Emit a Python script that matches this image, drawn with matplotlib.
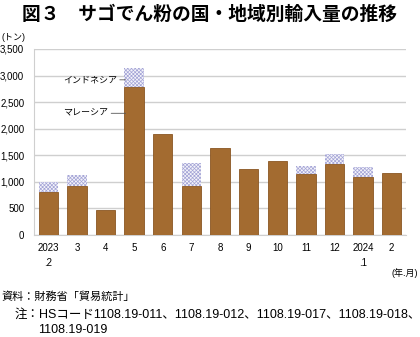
import numpy as np
import matplotlib
import matplotlib.pyplot as plt

matplotlib.use("Agg")
plt.rcParams['font.family'] = ['Liberation Sans', 'Noto Sans CJK JP', 'DejaVu Sans']
plt.rcParams['hatch.linewidth'] = 0.5

months = ['2023\n.2', '3', '4', '5', '6', '7', '8', '9', '10', '11', '12', '2024\n.1', '2']
malaysia = [815, 925, 470, 2780, 1900, 930, 1640, 1240, 1385, 1150, 1335, 1095, 1160]
indonesia = [190, 200, 0, 370, 0, 420, 0, 0, 0, 145, 180, 180, 0]
yticks = [0, 500, 1000, 1500, 2000, 2500, 3000, 3500]


def main():
    fig = plt.figure(figsize=(4.2, 3.37), dpi=100)
    ax = fig.add_axes([34 / 420, 1 - 235 / 337, 372 / 420, 186 / 337])

    x = np.arange(len(months))
    ax.bar(x, malaysia, width=0.68, color='#A36B30', edgecolor='#8A5622', linewidth=0.6, zorder=3)
    ax.bar(x, indonesia, width=0.68, bottom=malaysia, color='#F4F4FA', edgecolor='#A4A4D6',
           hatch='xxxxxxxxx', linewidth=0, zorder=3)

    ax.set_xlim(-0.5, len(months) - 0.5)
    ax.set_ylim(0, 3500)
    ax.set_yticks(yticks)
    ax.set_yticklabels([f'{v:,}' for v in yticks], fontsize=7)
    ax.set_xticks(x)
    ax.set_xticklabels(months, fontsize=7, linespacing=1.6, va='top')
    ax.tick_params(length=0, pad=6)
    ax.tick_params(axis='y', pad=7)
    ax.grid(axis='y', color='#CFCFCF', linewidth=1.0, zorder=0)
    ax.spines['top'].set_visible(False)
    ax.spines['right'].set_visible(False)
    ax.spines['left'].set_color('#CFCFCF')
    ax.spines['bottom'].set_color('#CFCFCF')

    # annotations on May bar
    ax.annotate('インドネシア', xy=(3 - 0.3, 2920), xytext=(2.4, 2920), fontsize=6.5,
                ha='right', va='center',
                arrowprops=dict(arrowstyle='-', color='#555555', linewidth=0.6,
                                shrinkA=0, shrinkB=0))
    ax.annotate('マレーシア', xy=(3 - 0.3, 2290), xytext=(2.1, 2290), fontsize=6.5,
                ha='right', va='center',
                arrowprops=dict(arrowstyle='-', color='#555555', linewidth=0.6,
                                shrinkA=0, shrinkB=0))

    fig.text(0.5, 1 - 15 / 337, '図３　サゴでん粉の国・地域別輸入量の推移', fontsize=13.5,
             fontweight='bold', ha='center', va='center')
    fig.text(2 / 420, 1 - 37 / 337, '(トン)', fontsize=6.5, ha='left', va='center')
    fig.text(418 / 420, 1 - 273 / 337, '(年.月)', fontsize=6.5, ha='right', va='center')
    fig.text(1 / 420, 1 - 297 / 337, '資料：財務省「貿易統計」', fontsize=8, ha='left', va='center')
    fig.text(15 / 420, 1 - 315 / 337,
             '注：HSコード1108.19-011、1108.19-012、1108.19-017、1108.19-018、',
             fontsize=9, ha='left', va='center')
    fig.text(38 / 420, 1 - 330 / 337, '1108.19-019', fontsize=9, ha='left', va='center')

    fig.savefig('out.png', dpi=100)


if __name__ == '__main__':
    main()
